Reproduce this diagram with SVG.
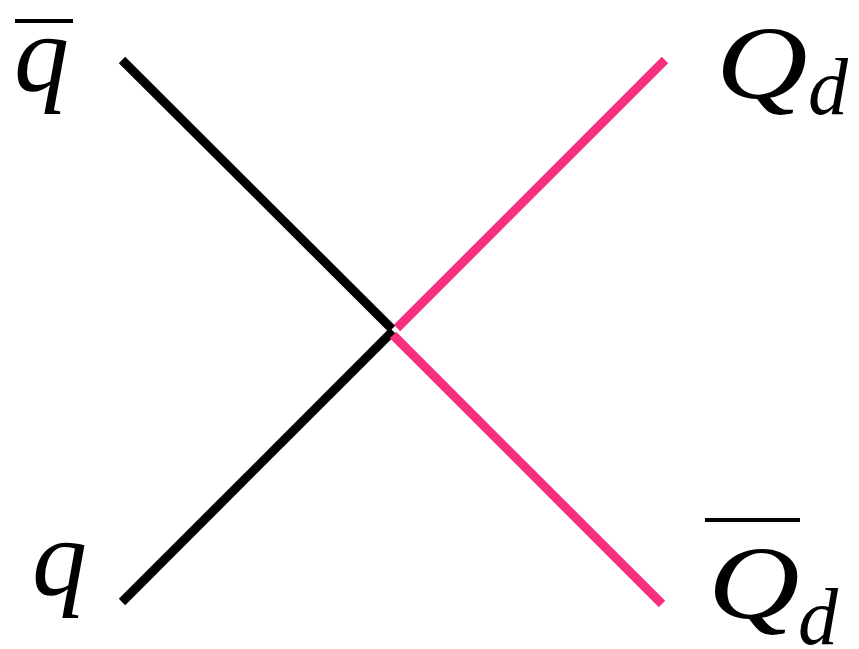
<svg xmlns="http://www.w3.org/2000/svg" width="859" height="649" viewBox="0 0 859 649">
<style>
.l{fill:none;stroke-width:9;stroke-linecap:butt}
.k{stroke:#000}
.p{stroke:#F72F7E}
.t{font-family:"Liberation Serif","DejaVu Serif",serif;font-style:italic;fill:#000}
.bar{stroke:#000;stroke-width:4}
</style>
<rect width="859" height="649" fill="#fff"/>
<g id="connectors">
<line class="l k" x1="122" y1="60" x2="392" y2="329"/>
<line class="l k" x1="122" y1="602" x2="393" y2="331"/>
<line class="l p" x1="665" y1="60" x2="397" y2="328"/>
<line class="l p" x1="662" y1="604" x2="393" y2="335"/>
</g>
<g id="qbar">
<line class="bar" x1="15" y1="21" x2="73" y2="21"/>
<text class="t" x="14" y="91" font-size="110">q</text>
</g>
<g id="q">
<text class="t" x="32" y="595" font-size="110">q</text>
</g>
<g id="Qd">
<text class="t" transform="translate(716,98) scale(1.22,1)" font-size="104">Q</text>
<text class="t" x="808" y="114" font-size="80">d</text>
</g>
<g id="Qbard">
<line class="bar" x1="705" y1="520" x2="800" y2="520"/>
<text class="t" transform="translate(708,618) scale(1.22,1)" font-size="104">Q</text>
<text class="t" x="798" y="644" font-size="80">d</text>
</g>
</svg>
